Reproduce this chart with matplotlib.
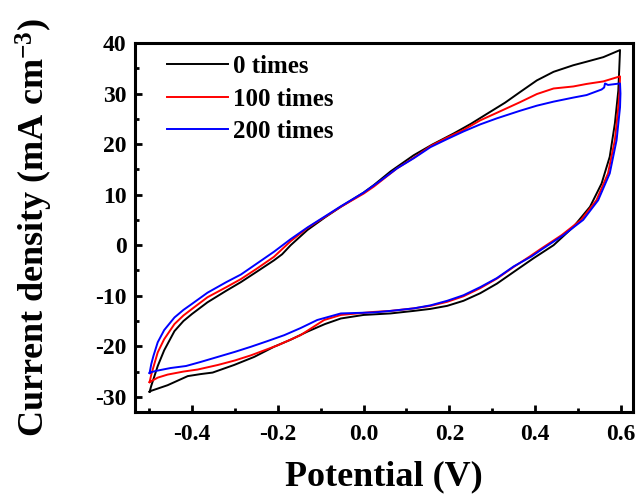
import matplotlib
matplotlib.use("Agg")
import matplotlib.pyplot as plt
from matplotlib.ticker import MultipleLocator, FormatStrFormatter

plt.rcParams['font.family'] = ['Liberation Serif', 'DejaVu Serif']
plt.rcParams['font.weight'] = 'bold'
plt.rcParams['mathtext.fontset'] = 'custom'
plt.rcParams['mathtext.rm'] = 'Liberation Serif:bold'
plt.rcParams['mathtext.bf'] = 'Liberation Serif:bold'
plt.rcParams['mathtext.default'] = 'bf'
plt.rcParams['axes.unicode_minus'] = False

# CV loops: anodic sweep left->right, then back
labels = ['0 times', '100 times', '200 times']
colors = ['black', 'red', 'blue']

pot_0 = [-0.499, -0.495, -0.49, -0.48, -0.465, -0.441, -0.42, -0.40, -0.364, -0.32,
         -0.286, -0.25, -0.209, -0.19, -0.17, -0.131, -0.09, -0.053, 0.0, 0.024,
         0.063, 0.117, 0.16, 0.21, 0.25, 0.288, 0.33, 0.365, 0.404, 0.443,
         0.489, 0.52, 0.559, 0.598,
         0.596, 0.594, 0.586, 0.574, 0.555, 0.528, 0.489, 0.443, 0.396, 0.35,
         0.311, 0.272, 0.233, 0.195, 0.156, 0.117, 0.063, 0.0, -0.053, -0.09,
         -0.131, -0.17, -0.209, -0.255, -0.302, -0.352, -0.38, -0.41, -0.457, -0.495, -0.499]
cur_0 = [-29.0, -27.8, -26.5, -23.9, -20.8, -17.0, -15.0, -13.6, -11.3, -9.0,
         -7.3, -5.3, -3.0, -1.8, 0.0, 3.0, 5.5, 7.6, 10.4, 11.9,
         14.6, 17.8, 19.9, 22.1, 24.0, 26.0, 28.2, 30.3, 32.6, 34.3,
         35.6, 36.3, 37.2, 38.6,
         34.5, 30.6, 24.1, 17.5, 12.2, 7.6, 3.6, 0.0, -2.6, -5.3,
         -7.6, -9.5, -11.0, -12.0, -12.6, -13.0, -13.5, -13.8, -14.5, -15.6,
         -17.1, -18.7, -20.1, -22.1, -23.7, -25.2, -25.5, -25.9, -27.7, -28.8, -29.0]

pot_100 = [-0.499, -0.495, -0.49, -0.48, -0.465, -0.441, -0.42, -0.40, -0.364, -0.32,
           -0.286, -0.25, -0.209, -0.17, -0.131, -0.09, -0.053, 0.0, 0.024, 0.078,
           0.117, 0.156, 0.195, 0.233, 0.272, 0.311, 0.365, 0.404, 0.443, 0.489,
           0.52, 0.559, 0.598,
           0.597, 0.594, 0.586, 0.570, 0.543, 0.507, 0.462, 0.412, 0.388, 0.35,
           0.311, 0.272, 0.233, 0.195, 0.156, 0.117, 0.063, 0.024, -0.053, -0.092,
           -0.147, -0.2, -0.263, -0.30, -0.34, -0.387, -0.42, -0.457, -0.48, -0.495, -0.499]
cur_100 = [-27.1, -25.6, -24.1, -21.2, -18.6, -15.6, -13.9, -12.6, -10.3, -8.3,
           -6.7, -4.7, -2.3, 0.8, 3.4, 5.6, 7.6, 10.2, 11.6, 15.2,
           17.3, 19.6, 21.3, 22.8, 24.7, 26.2, 28.3, 29.9, 31.0, 31.4,
           31.9, 32.4, 33.4,
           30.5, 27.3, 20.8, 14.2, 8.9, 5.0, 2.0, -0.8, -2.2, -4.3,
           -6.6, -8.5, -10.1, -11.2, -12.0, -12.5, -13.0, -13.2, -13.8, -14.8,
           -17.8, -19.8, -21.8, -22.8, -23.7, -24.6, -25.0, -25.6, -26.2, -26.9, -27.1]

pot_200 = [-0.499, -0.495, -0.49, -0.48, -0.465, -0.441, -0.42, -0.40, -0.364, -0.32,
           -0.286, -0.25, -0.209, -0.17, -0.131, -0.09, -0.053, 0.0, 0.040, 0.078,
           0.117, 0.156, 0.195, 0.233, 0.272, 0.311, 0.365, 0.404, 0.443, 0.489,
           0.52, 0.555, 0.561, 0.563, 0.57, 0.598,
           0.599, 0.598, 0.59, 0.574, 0.547, 0.512, 0.466, 0.416, 0.392, 0.35,
           0.311, 0.272, 0.233, 0.195, 0.156, 0.117, 0.063, 0.024, -0.053, -0.108,
           -0.147, -0.185, -0.225, -0.263, -0.30, -0.34, -0.38, -0.414, -0.45, -0.48, -0.495, -0.499]
cur_200 = [-25.3, -23.5, -21.9, -19.2, -16.8, -14.3, -12.8, -11.6, -9.4, -7.3,
           -5.8, -3.7, -1.3, 1.2, 3.5, 5.7, 7.7, 10.4, 12.8, 15.2,
           17.2, 19.4, 21.0, 22.5, 23.9, 25.1, 26.6, 27.6, 28.4, 29.2,
           29.7, 30.8, 31.2, 32.0, 31.7, 32.0,
           30.0, 27.3, 20.8, 14.2, 8.9, 5.0, 2.0, -0.8, -2.2, -4.2,
           -6.5, -8.3, -9.9, -11.0, -11.9, -12.5, -13.0, -13.3, -13.5, -14.8,
           -16.4, -17.8, -19.0, -20.1, -21.1, -22.1, -23.1, -23.9, -24.3, -24.8, -25.1, -25.3]

fig = plt.figure(figsize=(6.38, 5.0), dpi=100)
ax = fig.add_axes([0.2116, 0.176, 0.7804, 0.738])

for xs, ys, c, lab in zip([pot_0, pot_100, pot_200], [cur_0, cur_100, cur_200], colors, labels):
    ax.plot(xs, ys, color=c, lw=1.4, label=lab)

ax.set_xlim(-0.533, 0.628)
ax.set_ylim(-33, 40)
ax.xaxis.set_major_locator(MultipleLocator(0.2))
ax.xaxis.set_minor_locator(MultipleLocator(0.1))
ax.xaxis.set_major_formatter(FormatStrFormatter('%.1f'))
ax.yaxis.set_major_locator(MultipleLocator(10))
ax.yaxis.set_minor_locator(MultipleLocator(5))

for s in ax.spines.values():
    s.set_linewidth(2.2)
ax.tick_params(which='major', direction='in', length=5, width=2, labelsize=17, pad=6)
ax.tick_params(which='minor', direction='in', length=3, width=2)
ax.tick_params(axis='x', pad=9)

ax.set_xlabel('Potential (V)', fontsize=26, fontweight='bold')
ax.set_ylabel('Current density (mA cm$^{-3}$)', fontsize=26, fontweight='bold')
ax.xaxis.set_label_coords(0.5, -0.13)
ax.yaxis.set_label_coords(-0.161, 0.5)

ax.legend(loc='upper left', bbox_to_anchor=(0.064, 0.967), frameon=False,
          borderpad=0, borderaxespad=0, handlelength=2.44, handletextpad=0.2,
          labelspacing=0.38, prop={'weight': 'bold', 'size': 18})

fig.savefig('out.png', dpi=100)
